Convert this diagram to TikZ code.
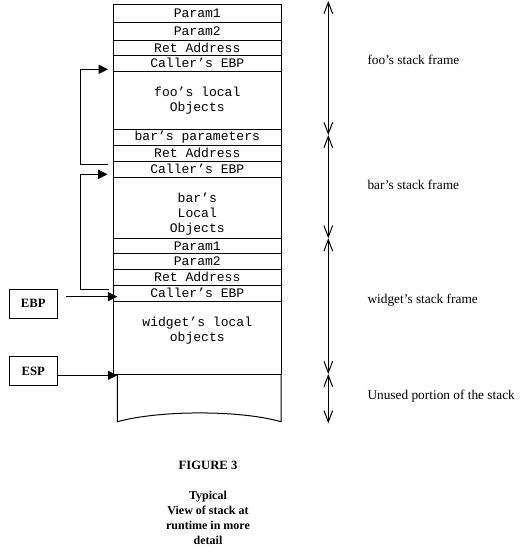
\documentclass[tikz,border=0pt]{standalone}
\usepackage{fontspec}
\setmainfont{Liberation Serif}
\setmonofont{Liberation Mono}
\usetikzlibrary{arrows.meta}
\begin{document}
\begin{tikzpicture}[x=0.75pt,y=-0.75pt, line width=0.75pt,
  rowbox/.style={draw, minimum width=126pt, inner sep=0pt, font=\fontsize{9.8}{11.25}\selectfont\ttfamily},
  rowtext/.style={inner sep=0pt, align=center, font=\fontsize{9.8}{11.25}\selectfont\ttfamily},
  link/.style={-{Triangle[length=7pt,width=6.75pt]}},
  span/.style={{Straight Barb[length=8.5pt,width=6.5pt]}-{Straight Barb[length=8.5pt,width=6.5pt]}},
  framelabel/.style={anchor=west, inner sep=0pt, font=\fontsize{10}{12}\selectfont},
  regbox/.style={draw, minimum width=36pt, minimum height=21.5pt, inner sep=0pt, font=\fontsize{9.5}{11}\selectfont\bfseries},
  caption/.style={align=center, inner sep=0pt, font=\fontsize{9}{11.25}\selectfont\bfseries}]
\useasboundingbox (0,0) rectangle (522,553);

% stack rows
\node[rowbox, minimum height=13.5pt]   (fooP1)   at (197.3,13.3)   {Param1};
\node[rowbox, minimum height=13.5pt]   (fooP2)   at (197.3,31.3)   {Param2};
\node[rowbox, minimum height=11.25pt]  (fooRet)  at (197.3,47.8)   {Ret Address};
\node[rowbox, minimum height=11.775pt] (fooEBP)  at (197.3,63.15)  {Caller’s EBP};
\node[rowbox, minimum height=43.725pt] (fooLoc)  at (197.3,100.15) {};
\node[rowbox, minimum height=12pt]     (barPar)  at (197.3,137.3)  {bar’s parameters};
\node[rowbox, minimum height=12pt]     (barRet)  at (197.3,153.3)  {Ret Address};
\node[rowbox, minimum height=11.775pt] (barEBP)  at (197.3,169.15) {Caller’s EBP};
\node[rowbox, minimum height=45.975pt] (barLoc)  at (197.3,207.65) {};
\node[rowbox, minimum height=11.25pt]  (widP1)   at (197.3,245.8)  {Param1};
\node[rowbox, minimum height=11.775pt] (widP2)   at (197.3,261.15) {Param2};
\node[rowbox, minimum height=12.225pt] (widRet)  at (197.3,277.15) {Ret Address};
\node[rowbox, minimum height=11.775pt] (widEBP)  at (197.3,293.15) {Caller’s EBP};
\node[rowbox, minimum height=54.75pt]  (widLoc)  at (197.3,337.5)  {};

\node[rowtext] (fooLocT) at (197.3,100.8) {foo’s local\\Objects};
\node[rowtext] (barLocT) at (197.3,214.5) {bar’s\\Local\\Objects};
\node[rowtext] (widLocT) at (197.3,330.8) {widget’s local\\objects};

% unused (torn) part of the stack
\draw (117.3,374.3) -- (117.3,421.7) .. controls (160,410) and (240,410) .. (281,421.7) -- (281,374.3);

% saved EBP links
\coordinate (l1from) at (108.3,164);
\coordinate (l1to)   at (108,69.3);
\coordinate (l2from) at (108.5,289);
\coordinate (l2to)   at (107.5,174.3);
\draw[link] (l1from) -- (80.7,164) -- (80.7,69.3) -- (l1to);
\draw[link] (l2from) -- (80.7,289) -- (80.7,174.3) -- (l2to);

% registers
\node[regbox] (EBP) at (33.3,303.7) {EBP};
\node[regbox] (ESP) at (33.3,371)   {ESP};
\coordinate (ebpfrom) at (66,296.7);
\coordinate (ebptip)  at (117.3,296.7);
\coordinate (esptip)  at (117.3,375.3);
\draw[link] (ebpfrom) -- (ebptip);
\draw[link] (ESP.east |- esptip) -- (esptip);

% frame spans
\coordinate (r0) at (328.3,1);
\coordinate (r1) at (328.3,135);
\coordinate (r2) at (328.3,238.3);
\coordinate (r3) at (328.3,374);
\coordinate (r4) at (328.3,423.3);
\draw[span] (r0) -- (r1);
\draw[span] (r1) -- (r2);
\draw[span] (r2) -- (r3);
\draw[span] (r3) -- (r4);

\node[framelabel] (fooL) at (367,60)    {foo’s stack frame};
\node[framelabel] (barL) at (367,185)   {bar’s stack frame};
\node[framelabel] (widL) at (367,300)   {widget’s stack frame};
\node[framelabel] (unuL) at (367,396.7) {Unused portion of the stack};

% caption
\node[caption, font=\fontsize{9.5}{11.25}\selectfont\bfseries] (fig) at (208,465) {FIGURE 3};
\node[caption] (cap) at (208,517.5) {Typical\\View of stack at\\runtime in more\\detail};
\end{tikzpicture}
\end{document}
